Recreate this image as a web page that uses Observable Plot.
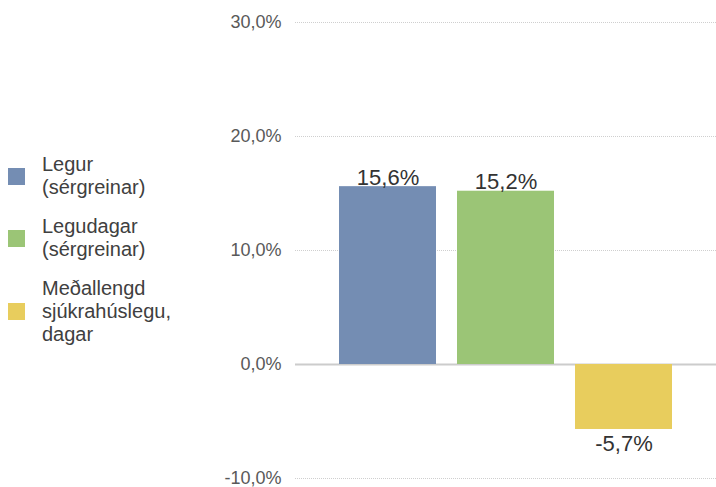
<!DOCTYPE html>
<html>
<head>
<meta charset="utf-8">
<script src="https://cdn.jsdelivr.net/npm/d3@7"></script>
<script src="https://cdn.jsdelivr.net/npm/@observablehq/plot@0.6"></script>
<style>
  body { margin: 0; background: #fff; }
  #wrap { position: relative; width: 716px; height: 487px; overflow: hidden; }
  #legend { position: absolute; left: 8px; top: 153px; font-family: "Liberation Sans", Arial, sans-serif; font-size: 20px; line-height: 23px; color: #404040; }
  .item { display: flex; align-items: center; margin-bottom: 16px; }
  .sw { width: 17px; height: 17px; flex: none; margin-right: 17px; }
  .lab { white-space: pre-line; }
</style>
</head>
<body>
<div id="wrap"><div id="chart"></div><div id="legend"></div></div>
<script>
const categories = ["Legur (sérgreinar)", "Legudagar (sérgreinar)", "Meðallengd sjúkrahúslegu, dagar"];
const legendLabels = ["Legur\n(sérgreinar)", "Legudagar\n(sérgreinar)", "Meðallengd\nsjúkrahúslegu,\ndagar"];
const values = [15.6, 15.2, -5.7];
const colors = ["#748db3", "#9bc576", "#e8cd5d"];
const yTicks = [-10, 0, 10, 20, 30];

const data = categories.map((c, i) => ({category: c, value: values[i]}));
const fmt = d => d.toFixed(1).replace(".", ",") + "%";
const narrow = '"Liberation Sans Narrow", "Arial Narrow", "Liberation Sans", Arial, sans-serif';

const chart = Plot.plot({
  width: 716,
  height: 487,
  marginLeft: 295,
  marginRight: 0,
  marginTop: 22,
  marginBottom: 9,
  style: {fontFamily: narrow, fontSize: "18px", color: "#595959", background: "white"},
  x: {domain: categories, axis: null, paddingInner: 0.18, paddingOuter: 0.36},
  y: {domain: [-10, 30], ticks: yTicks, tickFormat: fmt, tickSize: 0, tickPadding: 14, label: null},
  color: {domain: categories, range: colors},
  marks: [
    Plot.gridY(yTicks.filter(d => d !== 0), {stroke: "#cfcfcf", strokeOpacity: 1, strokeDasharray: "1,1"}),
    Plot.ruleY([0], {stroke: "#cccccc", strokeWidth: 2}),
    Plot.barY(data, {x: "category", y: "value", fill: "category"}),
    Plot.text(data.filter(d => d.value >= 0), {x: "category", y: "value", text: d => fmt(d.value), lineAnchor: "bottom", dy: -2, fontSize: 22, fill: "#333"}),
    Plot.text(data.filter(d => d.value < 0), {x: "category", y: "value", text: d => fmt(d.value), lineAnchor: "top", dy: 6, fontSize: 22, fill: "#333"})
  ]
});
document.getElementById("chart").appendChild(chart);

const legend = document.getElementById("legend");
categories.forEach((c, i) => {
  const item = document.createElement("div");
  item.className = "item";
  const sw = document.createElement("div");
  sw.className = "sw";
  sw.style.background = colors[i];
  const lab = document.createElement("div");
  lab.className = "lab";
  lab.textContent = legendLabels[i];
  item.appendChild(sw);
  item.appendChild(lab);
  legend.appendChild(item);
});
</script>
</body>
</html>
